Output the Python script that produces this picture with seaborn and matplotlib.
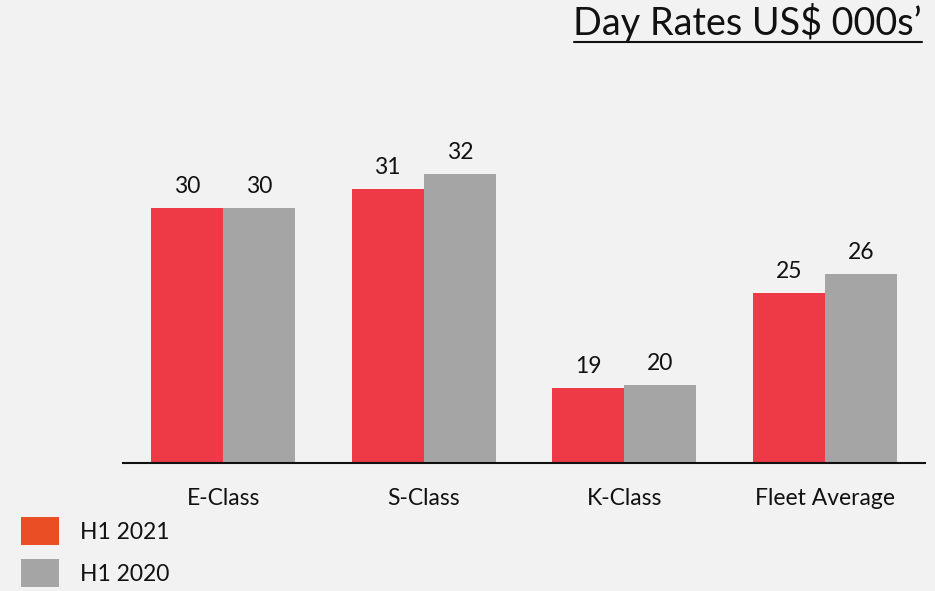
import matplotlib
matplotlib.use("Agg")
import matplotlib.pyplot as plt
from matplotlib.patches import Patch
from matplotlib.lines import Line2D
import seaborn as sns
import pandas as pd

categories = ["E-Class", "S-Class", "K-Class", "Fleet Average"]
series_names = ["H1 2021", "H1 2020"]
h1_2021 = [30.0, 31.1, 19.4, 25.0]
h1_2020 = [30.0, 32.0, 19.6, 26.1]

bar_colors = ["#ee3a46", "#a5a5a5"]
legend_colors = ["#e94e24", "#a5a5a5"]
bg = "#f2f2f2"

df = pd.DataFrame({
    "category": categories * 2,
    "series": [series_names[0]] * 4 + [series_names[1]] * 4,
    "value": h1_2021 + h1_2020,
})

sns.set_theme(style="white")
plt.rcParams["font.family"] = ["Lato", "DejaVu Sans"]

fig = plt.figure(figsize=(9.35, 5.91), dpi=100, facecolor=bg)
ax = fig.add_axes([123 / 935, 128 / 591, 802 / 935, 363 / 591])
ax.set_facecolor(bg)

sns.barplot(data=df, x="category", y="value", hue="series", order=categories,
            hue_order=series_names, palette=bar_colors, width=0.72, gap=0,
            saturation=1, ax=ax, legend=False, edgecolor="none", linewidth=0)

for cont in ax.containers:
    ax.bar_label(cont, fmt="{:.0f}", padding=8, fontsize=16.5, color="#111111")

ax.set_ylim(15, 15 + 363 / 17)
ax.set_xlim(-0.5, 3.5)
ax.set_xlabel("")
ax.set_ylabel("")
ax.set_yticks([])
for s in ["left", "right", "top"]:
    ax.spines[s].set_visible(False)
ax.spines["bottom"].set_color("#111111")
ax.spines["bottom"].set_linewidth(1.5)
ax.tick_params(axis="x", length=0, pad=18, labelsize=16.5, labelcolor="#111111")

# title with underline
fig.text(922 / 935, 1 - 23 / 591, "Day Rates US$ 000s\u2019", ha="right", va="center",
         fontsize=27.2, color="#111111")
fig.add_artist(Line2D([574 / 935, 922 / 935], [1 - 42 / 591, 1 - 42 / 591],
                      transform=fig.transFigure, color="#111111", linewidth=1.5))

handles = [Patch(facecolor=c, edgecolor="none") for c in legend_colors]
fig.legend(handles, series_names, loc="upper left",
           bbox_to_anchor=(21 / 935, 1 - 517 / 591), frameon=False,
           fontsize=16.5, handlelength=1.66, handleheight=1.5,
           handletextpad=0.92, labelspacing=0.62, borderpad=0, borderaxespad=0,
           labelcolor="#111111")

fig.savefig("out.png", dpi=100, facecolor=bg)
